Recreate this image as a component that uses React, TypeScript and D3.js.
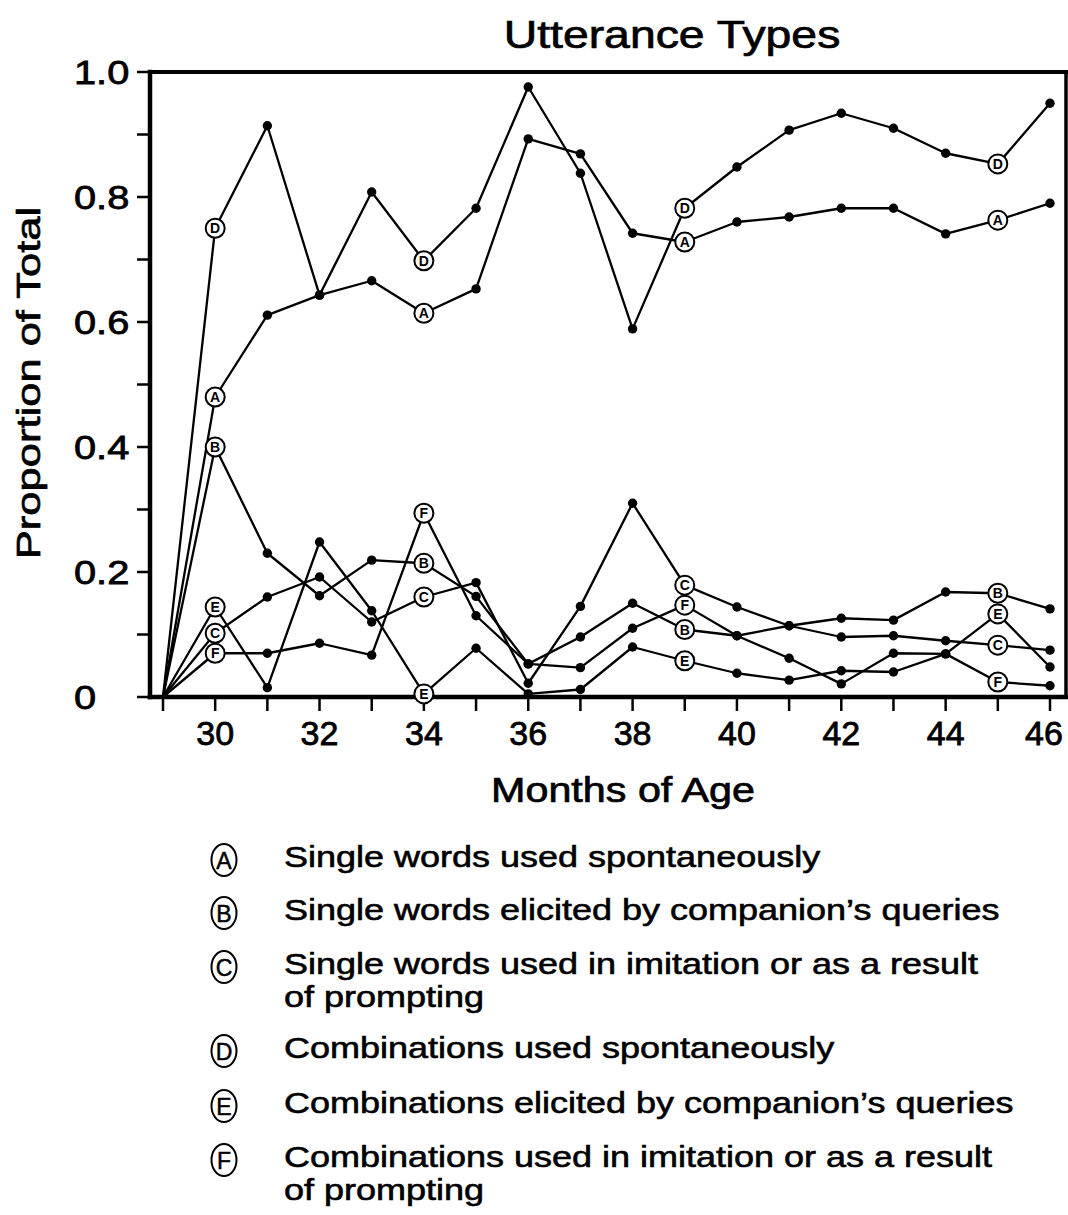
import React from 'react';
import * as d3 from 'd3';

// ---------- data ----------
const months = [29, 30, 31, 32, 33, 34, 35, 36, 37, 38, 39, 40, 41, 42, 43, 44, 45, 46];
const seriesA = [0, 0.48, 0.611, 0.643, 0.666, 0.614, 0.653, 0.893, 0.869, 0.742, 0.728, 0.76, 0.768, 0.782, 0.782, 0.741, 0.763, 0.79];
const seriesB = [0, 0.4, 0.23, 0.162, 0.219, 0.214, 0.161, 0.053, 0.096, 0.15, 0.108, 0.098, 0.114, 0.126, 0.123, 0.168, 0.166, 0.141];
const seriesC = [0, 0.102, 0.16, 0.192, 0.12, 0.16, 0.183, 0.022, 0.145, 0.31, 0.179, 0.144, 0.114, 0.096, 0.098, 0.09, 0.083, 0.075];
const seriesD = [0, 0.75, 0.914, 0.643, 0.808, 0.698, 0.782, 0.976, 0.838, 0.589, 0.782, 0.848, 0.907, 0.934, 0.91, 0.87, 0.853, 0.95];
const seriesE = [0, 0.144, 0.015, 0.248, 0.138, 0.005, 0.078, 0.005, 0.012, 0.08, 0.058, 0.038, 0.027, 0.042, 0.04, 0.069, 0.133, 0.048];
const seriesF = [0, 0.07, 0.07, 0.086, 0.067, 0.294, 0.13, 0.053, 0.047, 0.11, 0.147, 0.098, 0.062, 0.021, 0.07, 0.069, 0.024, 0.018];
const seriesKeys = ['A', 'B', 'C', 'D', 'E', 'F'];
const seriesValues = [seriesA, seriesB, seriesC, seriesD, seriesE, seriesF];
const labelMonths = [30, 34, 39, 45];

const yTickValues = [0, 0.1, 0.2, 0.3, 0.4, 0.5, 0.6, 0.7, 0.8, 0.9, 1.0];
const yLabelValues = [0, 0.2, 0.4, 0.6, 0.8, 1.0];
const yLabelTexts = ['0', '0.2', '0.4', '0.6', '0.8', '1.0'];
const xLabelValues = [30, 32, 34, 36, 38, 40, 42, 44, 46];

const title = 'Utterance Types';
const xTitle = 'Months of Age';
const yTitle = 'Proportion of Total';

const legendKeys = ['A', 'B', 'C', 'D', 'E', 'F'];
const legendLines = [
  ['Single words used spontaneously'],
  ["Single words elicited by companion\u2019s queries"],
  ['Single words used in imitation or as a result', 'of prompting'],
  ['Combinations used spontaneously'],
  ["Combinations elicited by companion\u2019s queries"],
  ['Combinations used in imitation or as a result', 'of prompting'],
];

// ---------- layout ----------
const W = 1068;
const H = 1215;
const FONT = "'Liberation Sans', Arial, Helvetica, sans-serif";
const frame = { left: 150, right: 1066, top: 72, bottom: 697 };

const x = d3.scaleLinear().domain([29, 46]).range([163, 1050]);
const y = d3.scaleLinear().domain([0, 1]).range([frame.bottom, frame.top]);

const line = d3
  .line<[number, number]>()
  .x((d) => x(d[0]))
  .y((d) => y(d[1]));

function SText({ tx, ty, sx = 1.18, rot = 0, size, anchor = 'middle', children, weight = 'normal', sw = 0.6 }: any) {
  return (
    <text
      transform={`translate(${tx},${ty}) rotate(${rot}) scale(${sx},1)`}
      fontFamily={FONT}
      fontSize={size}
      fontWeight={weight}
      textAnchor={anchor}
      fill="#000"
      stroke="#000"
      strokeWidth={sw}
    >
      {children}
    </text>
  );
}

export default function App() {
  const legendRowY = [860, 913, 967, 1051, 1106, 1160];
  return (
    <svg
      width={W}
      height={H}
      viewBox={`0 0 ${W} ${H}`}
      style={{ position: 'absolute', left: 0, top: 0, display: 'block', background: '#fff' }}
    >
      <rect x={0} y={0} width={W} height={H} fill="#fff" />
      {/* title */}
      <SText tx={672} ty={48} size={38} sx={1.22} sw={0.7}>{title}</SText>

      {/* frame */}
      <g stroke="#000" fill="none" strokeLinecap="square">
        <line x1={frame.left} y1={frame.top} x2={frame.right} y2={frame.top} strokeWidth={4} />
        <line x1={frame.right} y1={frame.top} x2={frame.right} y2={frame.bottom} strokeWidth={3.5} />
        <line x1={frame.left} y1={frame.top} x2={frame.left} y2={frame.bottom} strokeWidth={4.5} />
        <line x1={frame.left} y1={frame.bottom} x2={frame.right} y2={frame.bottom} strokeWidth={4.5} />
      </g>

      {/* y ticks */}
      <g stroke="#000" strokeWidth={2.5}>
        {yTickValues.map((v) => (
          <line key={v} x1={frame.left - 13} x2={frame.left} y1={y(v)} y2={y(v)} />
        ))}
      </g>
      {yLabelValues.map((v, i) => (
        <SText key={v} tx={74} ty={y(v) + 12} size={34} sx={1.17} anchor="start" sw={0.8}>
          {yLabelTexts[i]}
        </SText>
      ))}

      {/* x ticks */}
      <g stroke="#000" strokeWidth={2.5}>
        {months.map((m) => (
          <line key={m} x1={x(m)} x2={x(m)} y1={frame.bottom} y2={frame.bottom + 14} />
        ))}
      </g>
      {xLabelValues.map((m) => (
        <SText key={m} tx={Math.min(x(m), W - 24)} ty={745} size={34} sx={1.0} sw={0.8}>
          {String(m)}
        </SText>
      ))}

      {/* axis titles */}
      <SText tx={623} ty={802} size={35} sx={1.18} sw={0.7}>{xTitle}</SText>
      <SText tx={40} ty={383} rot={-90} size={34} sx={1.28} sw={0.7}>{yTitle}</SText>

      {/* series lines */}
      <g fill="none" stroke="#000" strokeWidth={2.3} strokeLinejoin="round">
        {seriesValues.map((vals, si) => (
          <path key={si} d={line(months.map((m, i) => [m, vals[i]]) as [number, number][]) || ''} />
        ))}
      </g>
      {/* dots */}
      <g fill="#000">
        {seriesValues.map((vals, si) =>
          months.map((m, i) =>
            m === 29 || labelMonths.includes(m) ? null : (
              <circle key={`${si}-${m}`} cx={x(m)} cy={y(vals[i])} r={4.7} />
            )
          )
        )}
      </g>
      {/* labelled markers */}
      {seriesValues.map((vals, si) =>
        months.map((m, i) =>
          labelMonths.includes(m) ? (
            <g key={`l${si}-${m}`}>
              <circle cx={x(m)} cy={y(vals[i])} r={9.5} fill="#fff" stroke="#000" strokeWidth={2} />
              <text
                x={x(m)}
                y={y(vals[i]) + 5}
                fontFamily={FONT}
                fontSize={14}
                fontWeight="bold"
                textAnchor="middle"
                fill="#000"
              >
                {seriesKeys[si]}
              </text>
            </g>
          ) : null
        )
      )}

      {/* legend */}
      {legendKeys.map((k, i) => (
        <g key={k}>
          <ellipse cx={224} cy={legendRowY[i]} rx={12.5} ry={16} fill="#fff" stroke="#000" strokeWidth={2} />
          <text
            x={224}
            y={legendRowY[i] + 8.5}
            fontFamily={FONT}
            fontSize={23}
            textAnchor="middle"
            fill="#000"
            stroke="#000"
            strokeWidth={0.5}
          >
            {k}
          </text>
          {legendLines[i].map((t, j) => (
            <SText key={j} tx={284} ty={legendRowY[i] + 7 + j * 33} size={30} sx={1.2} anchor="start" sw={0.6}>
              {t}
            </SText>
          ))}
        </g>
      ))}
    </svg>
  );
}
